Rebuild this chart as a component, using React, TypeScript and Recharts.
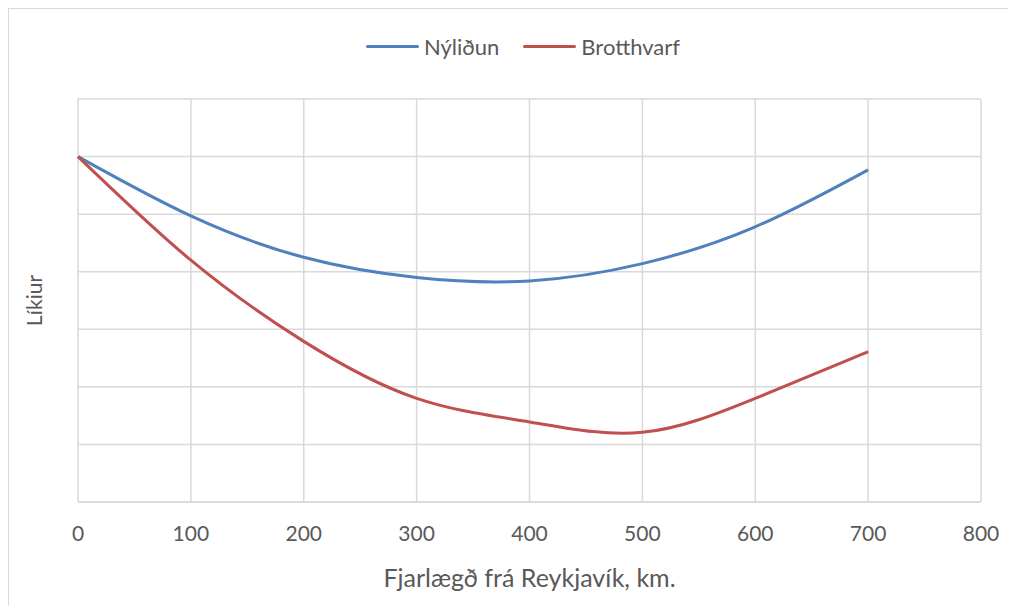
import { LineChart, Line, XAxis, YAxis, CartesianGrid, Legend } from 'recharts';

const distances = [0, 100, 200, 300, 400, 500, 600, 700];
const nylidun = [6.0, 4.97, 4.25, 3.9, 3.84, 4.14, 4.78, 5.77];
const brotthvarf = [6.0, 4.2, 2.79, 1.8, 1.39, 1.21, 1.8, 2.61];
const xTicks = [0, 100, 200, 300, 400, 500, 600, 700, 800];
const yTicks = [0, 1, 2, 3, 4, 5, 6, 7];

const SERIES = [
  { key: 'nylidun', name: 'Nýliðun', color: '#4F81BD' },
  { key: 'brotthvarf', name: 'Brotthvarf', color: '#C0504D' },
];

const data = distances.map((km, i) => ({
  km,
  nylidun: nylidun[i],
  brotthvarf: brotthvarf[i],
}));

const FONT = 'Lato, "Open Sans", sans-serif';
const TEXT = '#595959';
const GRID = '#d9d9d9';

const LegendBox = () => (
  <div
    style={{
      display: 'flex',
      justifyContent: 'center',
      alignItems: 'center',
      height: 30,
      fontFamily: FONT,
      fontSize: 22,
      color: TEXT,
    }}
  >
    {SERIES.map((s) => (
      <div key={s.key} style={{ display: 'flex', alignItems: 'center', margin: '0 12px' }}>
        <span
          style={{
            display: 'inline-block',
            width: 53,
            height: 3,
            borderRadius: 2,
            background: s.color,
            marginRight: 5,
          }}
        />
        <span>{s.name}</span>
      </div>
    ))}
  </div>
);

export default function App() {
  return (
    <div
      style={{
        position: 'relative',
        width: 1007,
        height: 597,
        borderTop: `1px solid ${GRID}`,
        borderLeft: `1px solid ${GRID}`,
        background: '#fff',
      }}
    >
      <LineChart
        width={1000}
        height={597}
        data={data}
        margin={{ top: 60, right: 28, bottom: 14, left: 0 }}
      >
        <CartesianGrid stroke={GRID} strokeWidth={1.5} />
        <XAxis
          dataKey="km"
          type="number"
          domain={[0, 800]}
          ticks={xTicks}
          height={90}
          tickLine={false}
          axisLine={{ stroke: GRID, strokeWidth: 1.5 }}
          tickMargin={18}
          tick={{ fill: TEXT, fontSize: 21, fontFamily: FONT }}
          label={{
            value: 'Fjarlægð frá Reykjavík, km.',
            position: 'insideBottom',
            offset: 5,
            fill: TEXT,
            fontSize: 25,
            fontFamily: FONT,
          }}
        />
        <YAxis
          type="number"
          domain={[0, 7]}
          ticks={yTicks}
          width={69}
          tick={() => <g />}
          tickLine={false}
          axisLine={false}
          label={{
            value: 'Líkiur',
            angle: -90,
            position: 'insideLeft',
            offset: 26,
            fill: TEXT,
            fontSize: 21,
            fontFamily: FONT,
            style: { textAnchor: 'middle' },
          }}
        />
        <Legend
          verticalAlign="top"
          content={() => <LegendBox />}
          wrapperStyle={{ top: 22, left: 28, width: 972 }}
        />
        {SERIES.map((s) => (
          <Line
            key={s.key}
            dataKey={s.key}
            name={s.name}
            type="natural"
            stroke={s.color}
            strokeWidth={3}
            dot={false}
            isAnimationActive={false}
          />
        ))}
      </LineChart>
    </div>
  );
}
